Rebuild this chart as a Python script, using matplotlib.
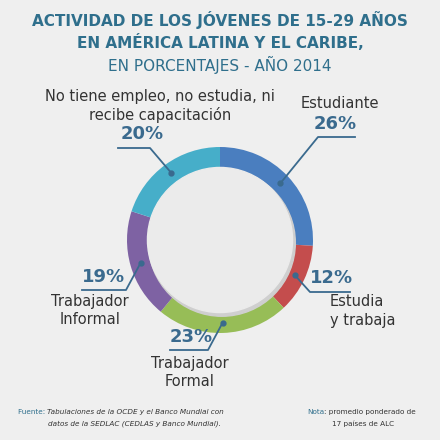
import matplotlib
matplotlib.use("Agg")
import matplotlib.pyplot as plt
import numpy as np
from matplotlib.patches import Circle

labels = ["Estudiante", "Estudia\ny trabaja", "Trabajador\nFormal", "Trabajador\nInformal", "No tiene empleo, no estudia, ni\nrecibe capacitación"]
values = [26, 12, 23, 19, 20]
colors = ["#4a7ebf", "#c44d4d", "#97bd57", "#7e62a3", "#46aec9"]

fig = plt.figure(figsize=(4.4, 4.4), dpi=100)
fig.patch.set_facecolor("#efefef")
W = 440.0
def fx(x): return x / W
def fy(y): return 1 - y / W

tc = "#2f6f8c"
fig.text(0.5, fy(20), "ACTIVIDAD DE LOS JÓVENES DE 15-29 AÑOS", ha="center", va="center", fontsize=11, fontweight="bold", color=tc)
fig.text(0.5, fy(43), "EN AMÉRICA LATINA Y EL CARIBE,", ha="center", va="center", fontsize=11, fontweight="bold", color=tc)
fig.text(0.5, fy(65), "EN PORCENTAJES - AÑO 2014", ha="center", va="center", fontsize=11, color=tc)

ax = fig.add_axes([fx(127), fy(333), 186 / W, 186 / W])
ax.pie(values, colors=colors, startangle=90, counterclock=False,
       wedgeprops=dict(width=0.24, edgecolor="none"))
ax.add_patch(Circle((0.02, -0.03), 0.79, color="#cfcfcf", zorder=3))
ax.add_patch(Circle((0, 0), 0.78, color="#ebebeb", zorder=4))
ax.set_xlim(-1, 1); ax.set_ylim(-1, 1); ax.set_aspect("equal"); ax.axis("off")

lc = "#3a6a8e"
cum = np.cumsum([0] + values)
specs = [
    ((318, 137), (355, 137), (335, 124), (340, 103), "center"),
    ((310, 292), (350, 292), (331, 278), (330, 311), "left"),
    ((208, 350), (170, 350), (191, 337), (190, 372), "center"),
    ((126, 290), (82, 290), (103, 277), (90, 310), "center"),
    ((150, 148), (118, 148), (142, 134), (160, 106), "center"),
]
for i, (el, ue, pp, lp, ha) in enumerate(specs):
    mid = (cum[i] + cum[i + 1]) / 2 / 100 * 2 * np.pi
    r = 0.89
    dx, dy = r * np.sin(mid), r * np.cos(mid)
    px = 220 + dx * 93; py = 240 - dy * 93
    fig.add_artist(plt.Line2D([fx(px), fx(el[0]), fx(ue[0])], [fy(py), fy(el[1]), fy(ue[1])],
                              color=lc, lw=1.3, transform=fig.transFigure, zorder=10))
    fig.add_artist(plt.Line2D([fx(px)], [fy(py)], marker="o", ms=3.5, color=lc, transform=fig.transFigure, zorder=10))
    fig.text(fx(pp[0]), fy(pp[1]), f"{values[i]}%", ha="center", va="center", fontsize=13, fontweight="bold", color=lc)
    fig.text(fx(lp[0]), fy(lp[1]), labels[i], ha=ha, va="center", fontsize=10.5, color="#333333", linespacing=1.25)

fs = 5.2
fig.text(fx(47), fy(412), "Fuente: ", ha="right", va="center", fontsize=fs, color="#2f6f8c")
fig.text(fx(47), fy(412), "Tabulaciones de la OCDE y el Banco Mundial con", ha="left", va="center", fontsize=fs, style="italic", color="#333")
fig.text(fx(134), fy(424), "datos de la SEDLAC (CEDLAS y Banco Mundial).", ha="center", va="center", fontsize=fs, style="italic", color="#333")
fig.text(fx(324), fy(412), "Nota", ha="right", va="center", fontsize=fs, color="#2f6f8c")
fig.text(fx(324), fy(412), ": promedio ponderado de", ha="left", va="center", fontsize=fs, color="#333")
fig.text(fx(363), fy(424), "17 países de ALC", ha="center", va="center", fontsize=fs, color="#333")

fig.savefig("out.png", dpi=100, facecolor=fig.get_facecolor())
